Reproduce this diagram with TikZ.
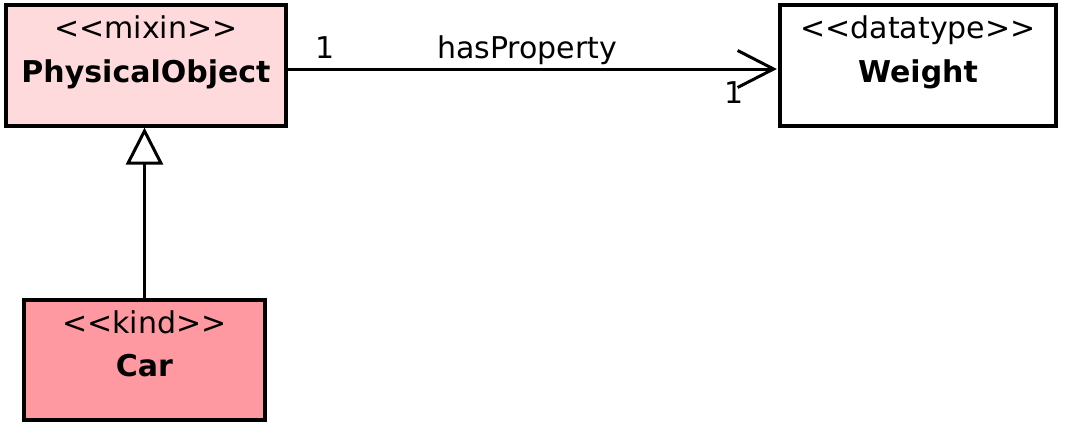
\documentclass[tikz,border=0pt]{standalone}
\usepackage{fontspec}
\setmainfont{DejaVu Sans}
\usetikzlibrary{arrows.meta,calc}
\definecolor{mixinpink}{HTML}{FFDADC}
\definecolor{kindpink}{HTML}{FF99A1}
\tikzset{
  classbox/.style={draw=black, line width=3.2pt, rectangle, inner sep=0pt},
  txt/.style={anchor=base, inner sep=0pt, font=\fontsize{30}{36}\selectfont},
  btxt/.style={txt, font=\fontsize{30}{36}\selectfont\bfseries},
  conn/.style={line width=3pt},
}
\begin{document}
\begin{tikzpicture}[x=1pt, y=-1pt]
\useasboundingbox (0,0) rectangle (1069,437);
% boxes
\node[classbox, fill=mixinpink, minimum width=280pt, minimum height=121pt] (PO) at (146,65.5) {};
\node[classbox, fill=white, minimum width=276pt, minimum height=121pt] (W) at (918,65.5) {};
\node[classbox, fill=kindpink, minimum width=241pt, minimum height=120pt] (C) at (144.5,360) {};
% texts
\node[txt] (POs) at (146,38) {<{}<mixin>{}>};
\node[btxt] (POn) at (146,82) {PhysicalObject};
\node[txt] (Ws) at (918,38) {<{}<datatype>{}>};
\node[btxt] (Wn) at (918,82) {Weight};
\node[txt] (Cs) at (144.5,333) {<{}<kind>{}>};
\node[btxt] (Cn) at (144.5,376) {Car};
% association
\coordinate (a1) at ($(PO.east)+(0,3.5)$);
\coordinate (a2) at ($(W.west)+(-1.5,3.5)$);
\draw[conn, -{Straight Barb[length=36pt, width=37pt, line width=3pt]}] (a1) -- (a2);
\node[txt] (m1) at (325,58) {1};
\node[txt] (lbl) at (527,58) {hasProperty};
\node[txt] (m2) at (734,103) {1};
% generalization
\draw[conn, -{Triangle[open, length=37pt, width=37pt, fill=white, line width=3pt]}] (C.north) -- (C.north |- PO.south);
\end{tikzpicture}
\end{document}
